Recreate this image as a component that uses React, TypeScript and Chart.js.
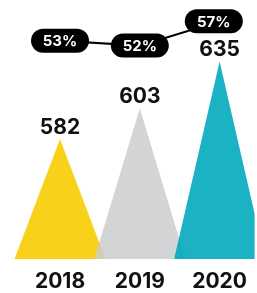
import React, { useEffect, useRef } from "react";
import { Chart, registerables } from "chart.js";

Chart.register(...registerables);

// ---- data ----
const years = [2018, 2019, 2020];
const values = [582, 603, 635];
const shares = [53, 52, 57];
const shareLabels = ["53%", "52%", "57%"];

// ---- styles ----
const colors = ["rgba(250,209,26,1)", "rgba(203,204,206,0.85)", "rgba(2,170,188,0.9)"];
const Y_MIN = 500;
const Y_MAX = 677;
const Y2_MIN = 8.36;
const Y2_MAX = 61.33;
const HALF = 0.57;
const FONT = "Inter, 'DejaVu Sans', sans-serif";

const labelsPlugin = {
  id: "customLabels",
  afterDatasetsDraw(chart: any) {
    const ctx = chart.ctx as CanvasRenderingContext2D;
    const area = chart.chartArea;
    ctx.save();
    // value labels on apex
    years.forEach((_, i) => {
      const meta = chart.getDatasetMeta(i);
      const pt = meta.data[1];
      ctx.font = `bold 21px ${FONT}`;
      ctx.fillStyle = "#111";
      ctx.textAlign = "center";
      ctx.textBaseline = "alphabetic";
      ctx.fillText(String(values[i]), pt.x, pt.y - 5);
    });
    // pills
    const lineMeta = chart.getDatasetMeta(years.length);
    lineMeta.data.forEach((pt: any, i: number) => {
      const w = 58;
      const h = 24;
      const cx = Math.min(pt.x, area.right - 12 - w / 2);
      const cy = pt.y;
      ctx.beginPath();
      ctx.fillStyle = "#000";
      (ctx as any).roundRect(cx - w / 2, cy - h / 2, w, h, h / 2);
      ctx.fill();
      ctx.font = `bold 15px ${FONT}`;
      ctx.fillStyle = "#fff";
      ctx.textAlign = "center";
      ctx.textBaseline = "middle";
      ctx.fillText(shareLabels[i], cx, cy + 1);
    });
    ctx.restore();
  },
};

export default function App() {
  const ref = useRef<HTMLCanvasElement>(null);
  useEffect(() => {
    if (!ref.current) return;
    const triangleSets = years.map((yr, i) => ({
      type: "line",
      data: [
        { x: yr - HALF, y: Y_MIN },
        { x: yr, y: values[i] },
        { x: yr + HALF, y: Y_MIN },
      ],
      backgroundColor: colors[i],
      borderColor: "rgba(0,0,0,0)",
      borderWidth: 0,
      pointRadius: 0,
      tension: 0,
      fill: "start",
      yAxisID: "y",
      order: 10 - i,
    }));
    const lineSet = {
      type: "line",
      data: years.map((yr, i) => ({ x: yr, y: shares[i] })),
      borderColor: "#000",
      borderWidth: 2,
      pointRadius: 0,
      tension: 0,
      fill: false,
      yAxisID: "y2",
      order: 0,
    };
    const chart = new Chart(ref.current, {
      type: "line",
      data: { datasets: [...triangleSets, lineSet] as any },
      options: {
        animation: false,
        responsive: false,
        layout: { padding: 0, autoPadding: false },
        plugins: { legend: { display: false }, tooltip: { enabled: false } },
        scales: {
          x: {
            type: "linear",
            min: 2017.248,
            max: 2020.441,
            grid: { display: false, drawTicks: false },
            border: { display: false },
            ticks: {
              font: { family: FONT, size: 21, weight: "bold" },
              color: "#111",
              padding: 10,
              autoSkip: false,
              maxRotation: 0,
              callback: (v: any) => String(v),
            },
            afterBuildTicks: (axis: any) => {
              axis.ticks = years.map((v) => ({ value: v }));
            },
            afterFit: (scale: any) => {
              scale.height = 34;
            },
          },
          y: { display: false, min: Y_MIN, max: Y_MAX },
          y2: { display: false, min: Y2_MIN, max: Y2_MAX },
        },
      } as any,
      plugins: [labelsPlugin],
    });
    return () => chart.destroy();
  }, []);
  return (
    <div style={{ position: "fixed", left: 0, top: 0, width: 257, height: 293, background: "#fff" }}>
      <canvas ref={ref} width={257} height={293} style={{ display: "block" }} />
    </div>
  );
}
